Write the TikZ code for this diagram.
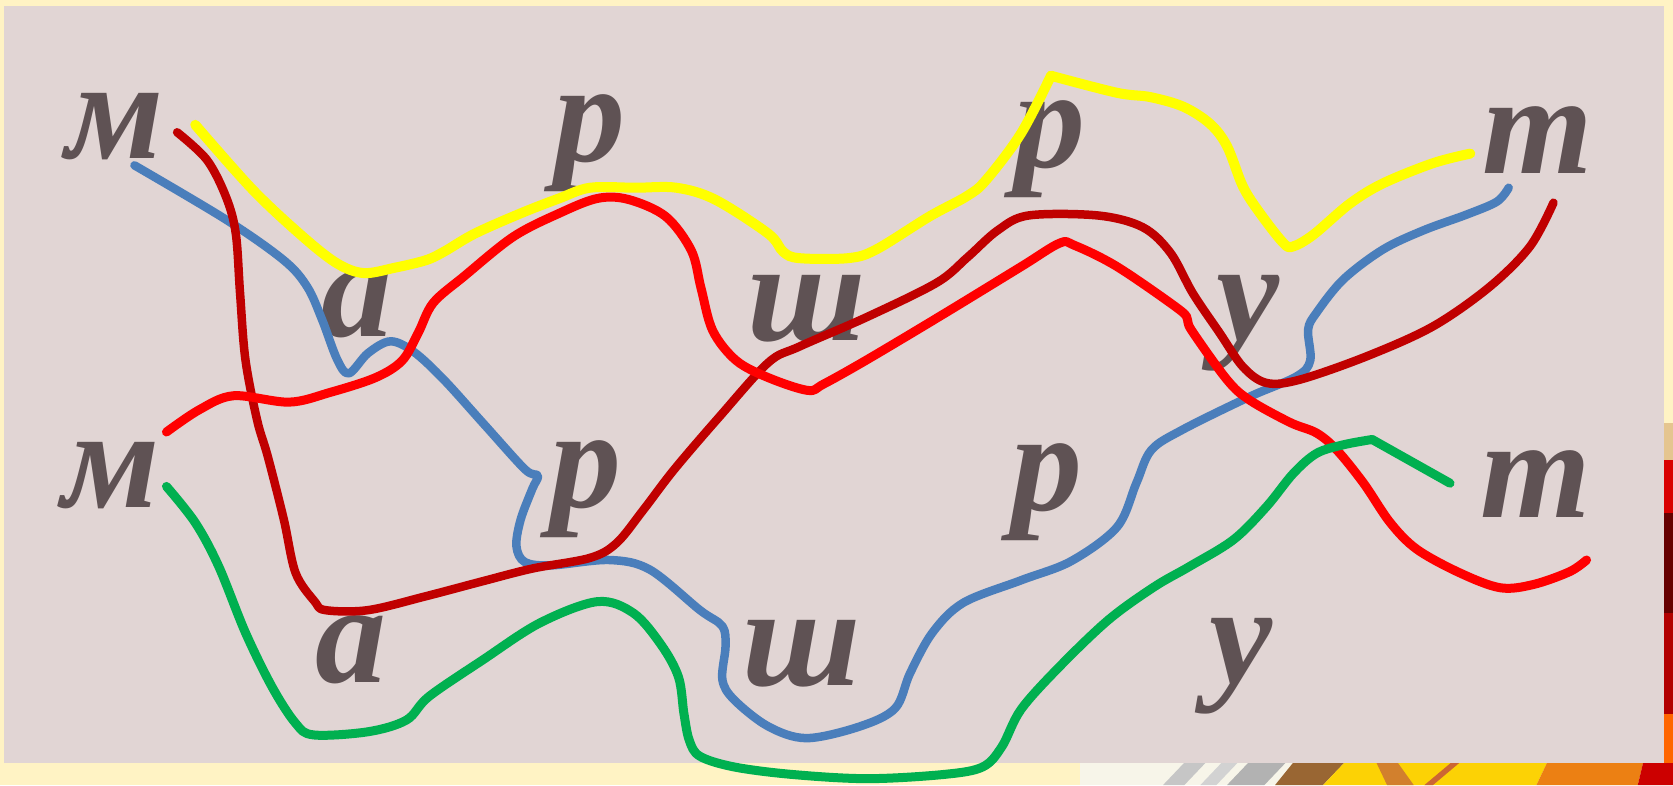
\documentclass[tikz,border=0pt]{standalone}
\usepackage{fontspec}
\setmainfont{Liberation Serif}
\definecolor{cream}{RGB}{255,243,196}
\definecolor{paper}{RGB}{225,213,212}
\definecolor{lettercol}{RGB}{95,82,84}
\definecolor{cblue}{RGB}{74,126,187}
\definecolor{cyellow}{RGB}{255,255,0}
\definecolor{cdarkred}{RGB}{192,0,0}
\definecolor{cred}{RGB}{255,0,0}
\definecolor{cgreen}{RGB}{0,176,80}
\begin{document}
\begin{tikzpicture}[x=1.0670pt,y=-1.0667pt,
  letter/.style={font=\fontsize{142}{142}\selectfont\bfseries\itshape,text=lettercol,inner sep=0pt,anchor=base},
  route/.style={line width=9pt,line cap=round,line join=round},
  smoothroute/.style={route,smooth,tension=0.55}]
\useasboundingbox (0,0) rectangle (1568,736);
\fill[cream] (0,0) rectangle (1568,736);
% autumn background strips
\fill[cream!80!gray!30] (1012,715) rectangle (1568,736);
\fill[gray!45] (1090,736) -- (1110,715) -- (1130,715) -- (1110,736) -- cycle;
\fill[gray!60] (1150,736) -- (1170,715) -- (1205,715) -- (1185,736) -- cycle;
\fill[gray!35] (1125,736) -- (1145,715) -- (1160,715) -- (1140,736) -- cycle;
\fill[brown!80!black] (1195,736) -- (1212,715) -- (1260,715) -- (1240,736) -- cycle;
\fill[yellow!70!orange] (1240,736) -- (1260,715) -- (1450,715) -- (1440,736) -- cycle;
\fill[brown!70!orange] (1300,736) -- (1290,715) -- (1310,715) -- (1325,736) -- cycle;
\fill[brown!80!red] (1335,736) -- (1360,715) -- (1368,715) -- (1343,736) -- cycle;
\fill[orange!70!brown] (1440,736) -- (1450,715) -- (1540,715) -- (1535,736) -- cycle;
\fill[red!80!black] (1535,736) -- (1540,715) -- (1568,715) -- (1568,736) -- cycle;
\fill[brown!40!cream] (1560,397) rectangle (1568,431);
\fill[red!85!black] (1560,431) rectangle (1568,481);
\fill[red!40!black] (1560,481) rectangle (1568,575);
\fill[red!70!black] (1560,575) rectangle (1568,669);
\fill[orange!80!red] (1560,669) rectangle (1568,715);
% photo
\fill[paper] (3.7,5.6) rectangle (1560,715);
% letters
\node[letter] (m1) at (108,149) {м};
\node[letter] (r1) at (553,151) {р};
\node[letter] (r2) at (984,157) {р};
\node[letter] (t1) at (1441,163) {т};
\node[letter] (a1) at (335,315) {а};
\node[letter] (sh1) at (756,319) {ш};
\node[letter] (u1) at (1170,319) {у};
\node[letter] (m2) at (104,476) {м};
\node[letter] (r3) at (549,476) {р};
\node[letter] (r4) at (981,479) {р};
\node[letter] (t2) at (1439,485) {т};
\node[letter] (a2) at (329,640) {а};
\node[letter] (sh2) at (751,643) {ш};
\node[letter] (u2) at (1163,641) {у};
% blue
\draw[smoothroute,cblue,line width=8.5pt] plot coordinates {(126,155) (212,206) (266,244) (288,269) (302,300) (316,337) (327,350) (345,331) (366,320) (388,330) (416,356) (453,397) (492,440) (504,446) (499,458) (488,487) (484,512) (492,527) (517,530) (571,525) (609,534) (656,572) (677,587) (680,606) (677,637) (688,656) (720,681) (756,692) (806,681) (839,664) (853,631) (874,593) (903,565) (957,544) (1004,526) (1047,494) (1065,453) (1079,422) (1108,403) (1171,372) (1215,353) (1228,338) (1226,309) (1234,293) (1259,262) (1296,234) (1334,216) (1375,201) (1403,189) (1414,176)};
% dark red
\draw[smoothroute,cdarkred,line width=8.5pt] plot coordinates {(166,124) (194,150) (212,185) (221,219) (225,275) (230,337) (241,394) (251,428) (266,487) (277,537) (295,564) (305,572) (345,572) (399,559) (452,545) (499,533) (553,523) (578,509) (603,478) (632,440) (674,391) (720,340) (749,325) (813,297) (878,265) (907,241) (935,216) (964,202) (1029,202) (1071,213) (1097,237) (1118,275) (1143,312) (1165,344) (1187,359) (1218,356) (1281,334) (1343,306) (1396,269) (1434,231) (1456,190)};
% red
\draw[smoothroute,cred] plot coordinates {(156,405) (187,384) (219,371) (271,377) (309,368) (352,354) (377,338) (392,312) (406,284) (435,259) (481,222) (524,200) (560,186) (589,187) (624,203) (648,235) (657,270) (668,310) (690,338) (720,354) (757,366) (772,360) (813,337) (885,294) (957,250) (993,228) (1007,230) (1047,250) (1105,290) (1113,300) (1117,310) (1150,356) (1171,375) (1209,396) (1234,406) (1253,422) (1278,453) (1303,490) (1328,515) (1368,537) (1406,551) (1437,548) (1471,536) (1487,525)};
% yellow
\coordinate (ypeak) at (985,71);
\draw[smoothroute,cyellow,line width=10pt] plot coordinates {(183,117) (237,178) (284,222) (316,247) (341,256) (370,251) (399,244) (416,236) (445,219) (488,200) (524,186) (553,176) (596,176) (634,176) (670,187) (720,219) (734,236) (749,242) (795,242) (821,234) (871,203) (906,184) (924,169) (957,125) (985,71)};
\draw[smoothroute,cyellow,line width=10pt] plot coordinates {(985,71) (1047,87) (1078,91) (1109,100) (1134,116) (1150,137) (1165,175) (1181,200) (1203,228) (1212,231) (1231,220) (1265,191) (1296,172) (1343,153) (1378,144)};
% green
\coordinate (gcorner) at (1286,412);
\draw[smoothroute,cgreen] plot coordinates {(156,456) (183,490) (205,531) (230,593) (255,644) (277,678) (294,689) (345,686) (381,675) (402,653) (452,619) (506,584) (560,564) (594,575) (620,605) (636,635) (641,669) (646,694) (656,709) (688,719) (742,726) (813,730) (885,726) (921,719) (939,700) (957,665) (993,625) (1039,581) (1082,550) (1115,531) (1156,506) (1187,475) (1212,444) (1234,425) (1259,417) (1286,412)};
\draw[route,cgreen] (gcorner) -- (1359,453);
\end{tikzpicture}
\end{document}
